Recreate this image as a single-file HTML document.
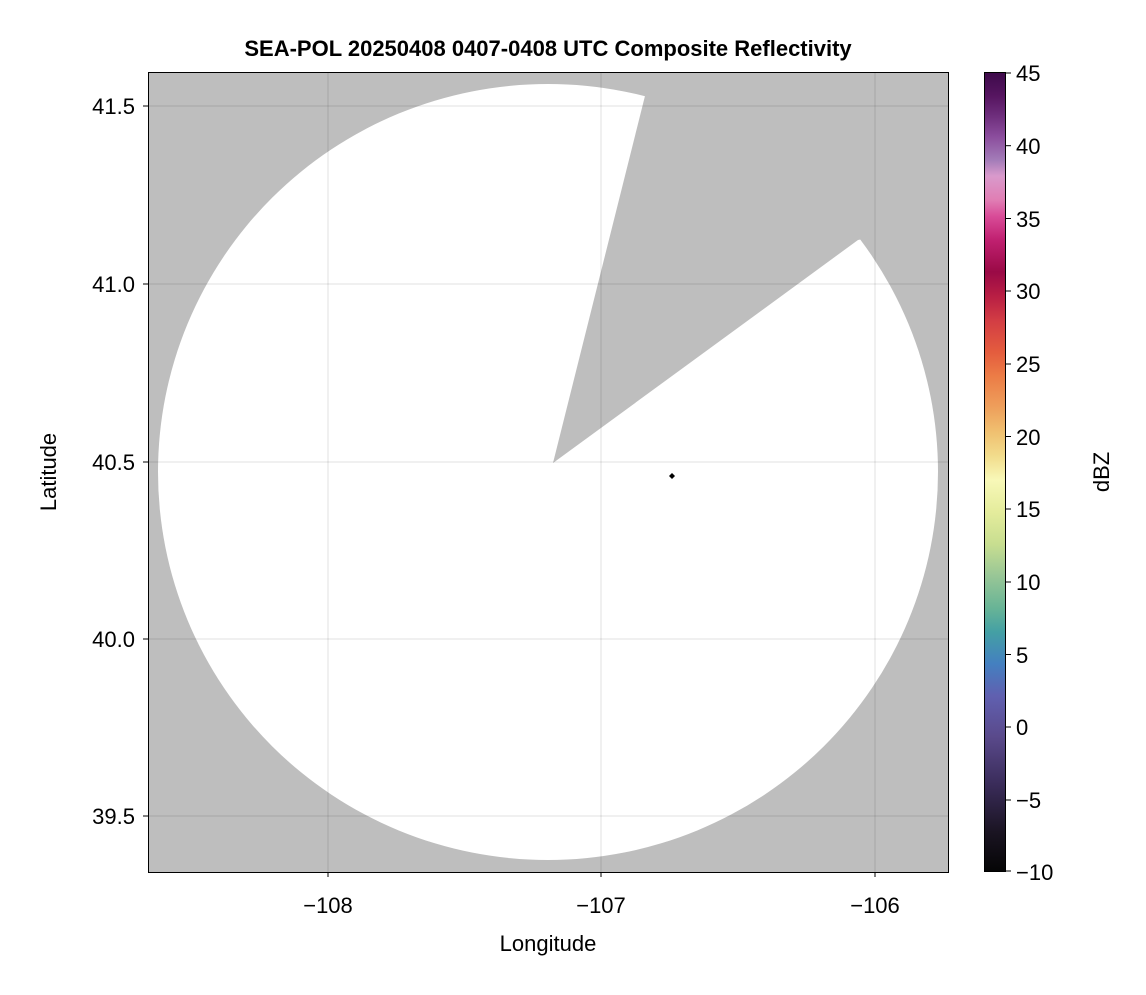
<!DOCTYPE html>
<html><head><meta charset="utf-8"><style>
body{margin:0;background:#fff;width:1146px;height:990px;overflow:hidden;font-family:"Liberation Sans",sans-serif}
</style></head><body>
<svg width="1146" height="990" xmlns="http://www.w3.org/2000/svg" font-family="Liberation Sans, sans-serif">
<defs>
<clipPath id="pa"><rect x="148" y="72" width="800" height="800"/></clipPath>
<linearGradient id="cb" x1="0" y1="0" x2="0" y2="1">
<stop offset="0" stop-color="#3d0a4a"/>
<stop offset="0.03" stop-color="#561560"/>
<stop offset="0.055" stop-color="#6e2e7c"/>
<stop offset="0.08" stop-color="#8a4c9c"/>
<stop offset="0.11" stop-color="#a37cb8"/>
<stop offset="0.13" stop-color="#d99acc"/>
<stop offset="0.16" stop-color="#e07eb4"/>
<stop offset="0.18" stop-color="#d94c98"/>
<stop offset="0.21" stop-color="#c02070"/>
<stop offset="0.25" stop-color="#9a0a46"/>
<stop offset="0.28" stop-color="#b81e44"/>
<stop offset="0.31" stop-color="#d23c44"/>
<stop offset="0.35" stop-color="#e45c3e"/>
<stop offset="0.38" stop-color="#ec7c46"/>
<stop offset="0.42" stop-color="#eea05c"/>
<stop offset="0.45" stop-color="#f0c070"/>
<stop offset="0.48" stop-color="#f2dc8c"/>
<stop offset="0.51" stop-color="#f8f8b8"/>
<stop offset="0.55" stop-color="#e4ec9c"/>
<stop offset="0.59" stop-color="#c8de90"/>
<stop offset="0.63" stop-color="#98c696"/>
<stop offset="0.67" stop-color="#68b496"/>
<stop offset="0.70" stop-color="#44a0a4"/>
<stop offset="0.74" stop-color="#4480c0"/>
<stop offset="0.78" stop-color="#6060b0"/>
<stop offset="0.83" stop-color="#5a4a8c"/>
<stop offset="0.89" stop-color="#3a2c5a"/>
<stop offset="0.95" stop-color="#1a1422"/>
<stop offset="1" stop-color="#050505"/>
</linearGradient>
</defs>
<g clip-path="url(#pa)">
<rect x="148" y="72" width="800" height="800" fill="#bebebe"/>
<ellipse cx="548" cy="472" rx="390" ry="388" fill="#fff"/>
<polygon points="553,463 654,60 700,40 1000,80 1000,210 858,240" fill="#bebebe"/>
<g stroke="#000" stroke-opacity="0.12" stroke-width="1">
<line x1="328" y1="72" x2="328" y2="872"/><line x1="601" y1="72" x2="601" y2="872"/><line x1="875" y1="72" x2="875" y2="872"/>
<line x1="148" y1="106" x2="948" y2="106"/><line x1="148" y1="284" x2="948" y2="284"/><line x1="148" y1="462" x2="948" y2="462"/><line x1="148" y1="639" x2="948" y2="639"/><line x1="148" y1="816" x2="948" y2="816"/>
</g>
<polygon points="672,473 675,476 672,479 669,476" fill="#000"/>
</g>
<rect x="148.5" y="72.5" width="800" height="800" fill="none" stroke="#000" stroke-width="1"/>
<g stroke="#000"><line x1="328" y1="872" x2="328" y2="877"/><line x1="601" y1="872" x2="601" y2="877"/><line x1="875" y1="872" x2="875" y2="877"/>
<line x1="143" y1="106" x2="148" y2="106"/><line x1="143" y1="284" x2="148" y2="284"/><line x1="143" y1="462" x2="148" y2="462"/><line x1="143" y1="639" x2="148" y2="639"/><line x1="143" y1="816" x2="148" y2="816"/></g>
<g font-size="22" text-anchor="middle" fill="#000">
<text x="328" y="913">−108</text><text x="601" y="913">−107</text><text x="875" y="913">−106</text>
<text x="548" y="951">Longitude</text>
</g>
<g font-size="22" text-anchor="end" fill="#000">
<text x="135" y="114">41.5</text><text x="135" y="292">41.0</text><text x="135" y="470">40.5</text><text x="135" y="647">40.0</text><text x="135" y="824">39.5</text>
</g>
<text transform="translate(56,472) rotate(-90)" font-size="22" text-anchor="middle">Latitude</text>
<text x="548" y="56" font-size="22" font-weight="bold" text-anchor="middle">SEA-POL 20250408 0407-0408 UTC Composite Reflectivity</text>
<rect x="984" y="72" width="22" height="800" fill="url(#cb)"/>
<rect x="984.5" y="72.5" width="21" height="799" fill="none" stroke="#000"/>
<g stroke="#000">
<line x1="1006" y1="73" x2="1011" y2="73"/><line x1="1006" y1="145.7" x2="1011" y2="145.7"/><line x1="1006" y1="218.5" x2="1011" y2="218.5"/><line x1="1006" y1="291" x2="1011" y2="291"/><line x1="1006" y1="364" x2="1011" y2="364"/><line x1="1006" y1="436.5" x2="1011" y2="436.5"/><line x1="1006" y1="509" x2="1011" y2="509"/><line x1="1006" y1="582" x2="1011" y2="582"/><line x1="1006" y1="654.5" x2="1011" y2="654.5"/><line x1="1006" y1="727" x2="1011" y2="727"/><line x1="1006" y1="800" x2="1011" y2="800"/><line x1="1006" y1="871" x2="1011" y2="871"/>
</g>
<g font-size="22" fill="#000">
<text x="1016" y="81">45</text><text x="1016" y="154">40</text><text x="1016" y="227">35</text><text x="1016" y="299">30</text><text x="1016" y="372">25</text><text x="1016" y="445">20</text><text x="1016" y="517">15</text><text x="1016" y="590">10</text><text x="1016" y="663">5</text><text x="1016" y="735">0</text><text x="1016" y="808">−5</text><text x="1016" y="880">−10</text>
</g>
<text transform="translate(1109,472) rotate(-90)" font-size="22" text-anchor="middle">dBZ</text>
</svg>
</body></html>
